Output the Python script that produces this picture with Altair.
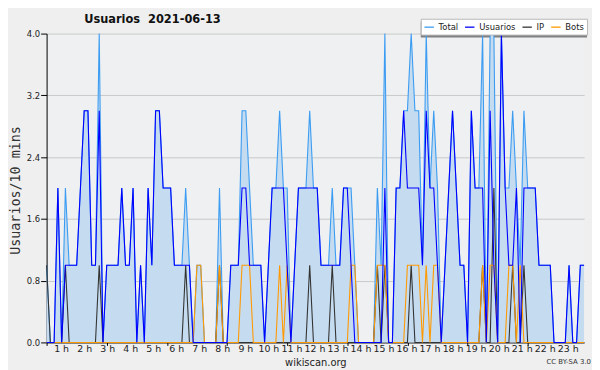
import altair as alt
import pandas as pd

# ---- data: 144 ten-minute slots (index 0 = 00:00), rows of 12 = 2 hours ----
usuarios = [0, 0, 0, 2, 0, 1, 1, 1, 1, 2, 3, 3,
            1, 1, 3, 0, 1, 1, 1, 1, 2, 1, 1, 2,
            0, 1, 0, 2, 1, 3, 3, 2, 2, 2, 1, 1,
            1, 1, 1, 0, 0, 0, 0, 0, 0, 0, 0, 0,
            0, 1, 1, 1, 2, 2, 1, 1, 1, 1, 0, 1,
            2, 2, 2, 2, 1, 0, 1, 2, 2, 2, 2, 2,
            2, 1, 1, 1, 1, 1, 1, 2, 2, 1, 0, 0,
            0, 0, 0, 0, 0, 0, 2, 0, 0, 2, 2, 3,
            2, 2, 2, 2, 1, 3, 2, 2, 1, 0, 1, 2,
            3, 2, 1, 1, 0, 3, 2, 2, 2, 0, 3, 1,
            0, 4, 2, 1, 1, 2, 0, 2, 2, 2, 2, 1,
            1, 1, 1, 0, 0, 0, 0, 1, 0, 0, 1, 1]
ip = [1, 0, 0, 0, 0, 1, 0, 0, 0, 0, 0, 0,
      0, 0, 1, 0, 0, 0, 0, 0, 0, 0, 0, 0,
      0, 0, 0, 0, 0, 0, 0, 0, 0, 0, 0, 0,
      0, 1, 0, 0, 0, 0, 0, 0, 0, 0, 1, 0,
      0, 0, 0, 0, 0, 0, 0, 0, 0, 0, 0, 0,
      0, 0, 0, 0, 0, 0, 0, 0, 0, 0, 1, 0,
      0, 0, 0, 0, 1, 0, 0, 0, 0, 0, 0, 0,
      0, 0, 0, 0, 1, 0, 1, 0, 0, 0, 0, 0,
      0, 1, 0, 0, 0, 0, 0, 0, 0, 0, 0, 0,
      0, 0, 0, 0, 0, 0, 0, 0, 1, 0, 0, 2,
      0, 0, 0, 0, 1, 0, 0, 1, 0, 0, 0, 0,
      0, 0, 0, 0, 0, 0, 0, 0, 0, 0, 0, 0]
bots = [0, 0, 0, 0, 0, 0, 0, 0, 0, 0, 0, 0,
        0, 0, 0, 0, 0, 0, 0, 0, 0, 0, 0, 0,
        0, 0, 0, 0, 0, 0, 0, 0, 0, 0, 0, 0,
        0, 0, 0, 0, 1, 1, 0, 0, 0, 0, 1, 0,
        0, 0, 0, 0, 1, 1, 1, 0, 0, 0, 0, 0,
        0, 0, 1, 0, 1, 0, 0, 0, 0, 0, 0, 0,
        0, 0, 0, 0, 0, 0, 0, 0, 0, 1, 1, 0,
        0, 0, 0, 0, 1, 1, 1, 0, 0, 0, 0, 0,
        1, 1, 1, 1, 0, 1, 0, 1, 1, 0, 0, 0,
        0, 0, 0, 0, 0, 0, 0, 0, 1, 0, 1, 1,
        0, 0, 0, 1, 1, 0, 1, 0, 0, 0, 0, 0,
        0, 0, 0, 0, 0, 0, 0, 0, 0, 0, 0, 0]
total = [1, 0, 0, 2, 0, 2, 1, 1, 1, 2, 3, 3,
         1, 1, 4, 0, 1, 1, 1, 1, 2, 1, 1, 2,
         0, 1, 0, 2, 1, 3, 3, 2, 2, 2, 1, 1,
         1, 2, 1, 0, 1, 1, 0, 0, 0, 0, 2, 0,
         0, 1, 1, 1, 3, 3, 2, 1, 1, 1, 0, 1,
         2, 2, 3, 2, 2, 0, 1, 2, 2, 2, 3, 2,
         2, 1, 1, 1, 2, 1, 1, 2, 2, 2, 1, 0,
         0, 0, 0, 0, 2, 1, 4, 0, 0, 2, 2, 3,
         3, 4, 3, 3, 1, 4, 2, 3, 2, 0, 1, 2,
         3, 2, 1, 1, 0, 3, 2, 2, 4, 0, 4, 4,
         0, 4, 2, 2, 3, 2, 1, 3, 2, 2, 2, 1,
         1, 1, 1, 0, 0, 0, 0, 1, 0, 0, 1, 1]

series_names = ["Total", "Usuarios", "IP", "Bots"]
series_colors = ["#3b9cf2", "#0000ff", "#333333", "#ff9900"]
hours = list(range(1, 24))
y_ticks = [round(0.2 * k, 1) for k in range(21)]
title_text = ["Usuarios\u00a0\u00a02021-06-13"]
credit_text = ["CC BY-SA 3.0"]

FONT = "DejaVu Sans"
W, H = 543, 312

df = pd.DataFrame({"i": list(range(144)), "Total": total, "Usuarios": usuarios,
                   "IP": ip, "Bots": bots})
long = df.melt("i", var_name="serie", value_name="v")

major = "abs(datum.value/0.8 - round(datum.value/0.8)) < 0.001"
xscale = alt.Scale(domain=[0, 143], nice=False, zero=False)
yscale = alt.Scale(domain=[0, 4], nice=False, zero=True)

x_main = alt.X("i:Q", scale=xscale,
               axis=alt.Axis(values=list(range(0, 144)), labels=False, title=None,
                             grid=False, tickSize=3, tickColor="#000",
                             domainColor="#000", orient="bottom"))
y_main = alt.Y("Total:Q", scale=yscale,
               axis=alt.Axis(values=y_ticks, title="Usuarios/10 mins",
                             labelExpr=f"{major} ? format(datum.value, '.1f') : ''",
                             tickSize={"condition": {"test": major, "value": 6}, "value": 3},
                             gridOpacity={"condition": {"test": major, "value": 1}, "value": 0},
                             gridColor="#c8c8c8", tickColor="#000", domainColor="#000",
                             labelFont=FONT, labelFontSize=8.5, labelColor="#222",
                             labelPadding=1, titleFont="DejaVu Sans Mono",
                             titleFontSize=13.5, titleFontWeight="normal",
                             titleColor="#333", titleX=-27, titleY=158,
                             titleBaseline="alphabetic", titleAngle=270))

area = alt.Chart(df).mark_area(color="#c5dcf0", opacity=1, interpolate="linear").encode(
    x=x_main, y=y_main)

color = alt.Color("serie:N",
                  scale=alt.Scale(domain=series_names, range=series_colors),
                  legend=alt.Legend(title=None, orient="none", direction="horizontal",
                                    legendX=378, legendY=-15, symbolType="stroke",
                                    symbolSize=90, symbolStrokeWidth=1.3,
                                    labelFont=FONT, labelFontSize=8.5,
                                    labelColor="#222", labelOffset=4,
                                    columnPadding=4, padding=3,
                                    fillColor="#ffffff", strokeColor="#b8b8b8"))

layers = [area]
for s in ["Total", "IP", "Bots", "Usuarios"]:
    layers.append(
        alt.Chart(long[long.serie == s]).mark_line(strokeWidth=1.1, interpolate="linear")
        .encode(x=alt.X("i:Q", scale=xscale), y=alt.Y("v:Q", scale=yscale), color=color)
    )

shadow = alt.Chart(pd.DataFrame({"k": [0]})).mark_rect(color="#808080").encode(
    x=alt.value(378), x2=alt.value(546), y=alt.value(-12), y2=alt.value(4))

title = alt.Chart(pd.DataFrame({"t": title_text})).mark_text(
    align="left", baseline="alphabetic", font=FONT, fontSize=11.5, fontWeight="bold",
    color="#111").encode(x=alt.value(38), y=alt.value(-11), text="t:N")

cc = alt.Chart(pd.DataFrame({"t": credit_text})).mark_text(
    align="right", baseline="alphabetic", font=FONT, fontSize=7, color="#333").encode(
    x=alt.value(W + 7), y=alt.value(H + 22), text="t:N")

lines = alt.layer(shadow, *layers, title, cc)

hour_labels = alt.Chart(pd.DataFrame({"h": hours})).mark_point(opacity=0).encode(
    x=alt.X("h:Q", scale=alt.Scale(domain=[0.37, 23.71], nice=False, zero=False),
            axis=alt.Axis(values=hours, labelExpr="datum.value + ' h'", ticks=False,
                          domain=False, grid=False, orient="bottom", labelFont=FONT,
                          labelFontSize=9.5, labelColor="#222", labelPadding=1,
                          title="wikiscan.org", titleFont=FONT, titleFontSize=10,
                          titleFontWeight="normal", titleColor="#222", titlePadding=5)),
    y=alt.value(0))

chart = alt.layer(lines, hour_labels).resolve_scale(x="independent").properties(
    width=W, height=H,
    autosize=alt.AutoSizeParams(type="none"),
    padding={"left": 39, "top": 24, "right": 8, "bottom": 26},
    background="#efefef",
).configure_view(fill="#eef0f2", stroke=None)

chart.save("out.html", embed_options={"renderer": "svg", "actions": False})
